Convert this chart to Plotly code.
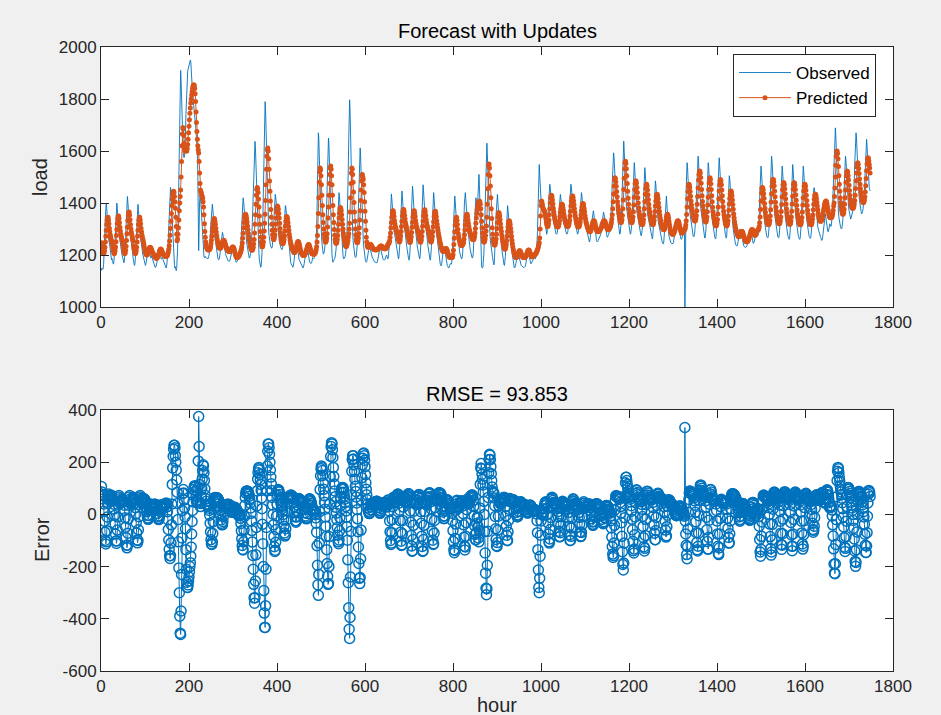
import numpy as np
import plotly.graph_objects as go

# Hourly load, one row per day (last day partial)
OBSERVED = [
    1140,1150,1148,1145,1150,1165,1196,1242,1298,1349,1385,1400,1380,1344,1303,1273,1257,1252,1247,1237,1222,1206,1191,1181,
    1186,1179,1170,1165,1170,1184,1212,1254,1306,1353,1386,1400,1381,1348,1311,1283,1268,1264,1259,1250,1236,1221,1207,1198,
    1201,1185,1175,1170,1175,1190,1221,1267,1323,1374,1410,1425,1405,1369,1328,1298,1282,1277,1272,1262,1247,1231,1216,1206,
    1188,1174,1165,1160,1165,1179,1207,1249,1301,1348,1381,1395,1376,1343,1306,1278,1263,1259,1254,1245,1231,1216,1202,1193,
    1185,1175,1168,1162,1160,1165,1175,1190,1205,1218,1228,1232,1225,1212,1200,1192,1188,1190,1195,1192,1185,1178,1170,1165,
    1160,1156,1153,1152,1155,1162,1172,1186,1200,1212,1222,1226,1220,1208,1196,1188,1184,1186,1190,1188,1182,1176,1170,1166,
    1162,1158,1154,1150,1155,1168,1190,1225,1270,1320,1370,1412,1445,1460,1440,1400,1350,1300,1255,1220,1195,1175,1160,1150,
    1155,1145,1140,1148,1170,1220,1300,1410,1540,1670,1790,1880,1910,1870,1790,1710,1650,1610,1590,1578,1575,1585,1610,1660,
    1740,1810,1860,1890,1905,1915,1925,1935,1940,1945,1950,1945,1925,1890,1855,1825,1800,1780,1760,1745,1730,1715,1700,1680,
    1660,1630,1590,1520,1400,1217,1300,1400,1430,1420,1400,1370,1330,1290,1250,1215,1200,1195,1190,1192,1195,1190,1188,1190,
    1188,1186,1185,1188,1195,1205,1225,1260,1300,1340,1370,1388,1395,1380,1350,1315,1290,1275,1265,1255,1240,1225,1210,1198,
    1190,1185,1182,1182,1186,1195,1210,1230,1252,1270,1282,1287,1280,1265,1248,1232,1220,1212,1205,1198,1192,1186,1182,1180,
    1178,1176,1175,1176,1180,1188,1198,1208,1216,1221,1223,1220,1212,1202,1192,1185,1180,1176,1173,1172,1174,1178,1185,1195,
    1200,1198,1200,1210,1225,1250,1285,1325,1365,1398,1420,1410,1385,1350,1318,1292,1275,1262,1250,1237,1224,1210,1200,1192,
    1188,1190,1195,1205,1220,1245,1280,1325,1380,1440,1510,1580,1625,1637,1610,1550,1480,1420,1370,1320,1280,1240,1205,1180,
    1165,1157,1153,1158,1175,1210,1270,1350,1450,1560,1670,1755,1790,1760,1680,1580,1490,1420,1370,1330,1300,1275,1255,1245,
    1238,1232,1228,1226,1230,1242,1265,1300,1345,1390,1420,1433,1425,1400,1370,1340,1315,1295,1280,1268,1256,1246,1238,1232,
    1226,1222,1220,1222,1230,1245,1270,1305,1345,1375,1390,1385,1365,1335,1305,1280,1260,1242,1226,1212,1198,1185,1174,1166,
    1162,1158,1155,1153,1156,1165,1180,1200,1222,1240,1252,1255,1248,1232,1214,1200,1190,1184,1180,1176,1170,1165,1160,1156,
    1153,1151,1150,1152,1158,1168,1182,1198,1214,1228,1236,1236,1228,1214,1200,1188,1180,1174,1170,1168,1167,1168,1172,1180,
    1190,1188,1186,1186,1190,1198,1210,1228,1255,1300,1370,1470,1580,1670,1650,1590,1510,1440,1380,1330,1285,1250,1222,1206,
    1205,1204,1208,1218,1235,1260,1295,1340,1400,1470,1545,1610,1650,1630,1560,1470,1390,1320,1270,1230,1200,1182,1172,1175,
    1180,1182,1186,1192,1202,1218,1240,1270,1310,1355,1400,1430,1440,1425,1390,1350,1315,1285,1258,1235,1215,1198,1188,1185,
    1188,1190,1195,1205,1220,1245,1285,1345,1430,1530,1640,1740,1797,1760,1660,1540,1440,1370,1320,1285,1255,1230,1212,1200,
    1195,1192,1190,1195,1208,1230,1265,1320,1390,1470,1550,1600,1612,1580,1510,1430,1365,1320,1285,1258,1235,1215,1198,1185,
    1178,1174,1172,1175,1182,1192,1205,1218,1228,1232,1230,1222,1212,1202,1195,1190,1188,1186,1184,1180,1176,1173,1172,1172,
    1172,1170,1170,1172,1178,1188,1200,1212,1222,1228,1228,1222,1212,1202,1194,1188,1184,1182,1180,1180,1182,1185,1190,1196,
    1200,1192,1190,1185,1190,1205,1235,1280,1335,1385,1420,1435,1415,1380,1340,1310,1295,1290,1285,1275,1260,1245,1230,1220,
    1216,1201,1190,1185,1190,1206,1237,1284,1341,1393,1429,1446,1424,1388,1346,1315,1299,1294,1289,1279,1263,1247,1232,1221,
    1214,1197,1186,1180,1186,1203,1237,1288,1351,1408,1448,1465,1442,1402,1357,1323,1305,1300,1294,1283,1266,1248,1231,1220,
    1219,1202,1191,1185,1191,1208,1242,1293,1356,1413,1453,1470,1447,1407,1362,1328,1310,1305,1299,1288,1271,1253,1236,1225,
    1211,1196,1185,1180,1185,1201,1232,1279,1336,1388,1424,1440,1419,1383,1341,1310,1294,1289,1280,1265,1245,1225,1205,1190,
    1180,1172,1165,1160,1158,1162,1172,1188,1205,1220,1230,1232,1225,1210,1195,1182,1172,1165,1160,1156,1153,1150,1152,1158,
    1165,1167,1166,1165,1170,1186,1217,1264,1322,1375,1411,1427,1406,1370,1327,1296,1280,1275,1270,1260,1244,1228,1212,1201,
    1195,1190,1186,1185,1191,1208,1240,1290,1350,1400,1432,1440,1418,1380,1338,1306,1290,1285,1280,1270,1254,1238,1222,1210,
    1205,1198,1192,1188,1192,1205,1230,1268,1315,1362,1398,1420,1412,1395,1385,1400,1440,1490,1510,1470,1380,1280,1200,1160,
    1155,1151,1150,1155,1170,1200,1250,1320,1410,1500,1575,1620,1630,1590,1520,1445,1385,1340,1305,1278,1255,1237,1222,1210,
    1200,1190,1178,1165,1162,1175,1205,1250,1305,1358,1400,1425,1433,1405,1365,1330,1310,1300,1292,1280,1262,1242,1222,1205,
    1192,1180,1170,1162,1160,1170,1195,1235,1285,1335,1372,1390,1375,1345,1310,1282,1266,1258,1250,1238,1222,1205,1188,1175,
    1165,1158,1153,1150,1152,1158,1168,1182,1195,1205,1210,1208,1200,1190,1180,1172,1166,1162,1160,1158,1156,1154,1152,1152,
    1152,1152,1153,1156,1162,1172,1184,1196,1205,1210,1208,1200,1190,1180,1173,1168,1166,1168,1172,1178,1182,1184,1185,1186,
    1188,1186,1185,1188,1195,1210,1240,1290,1360,1445,1520,1548,1510,1460,1430,1415,1405,1400,1395,1388,1378,1365,1350,1335,
    1320,1305,1292,1284,1280,1288,1310,1345,1395,1440,1465,1472,1458,1430,1398,1372,1358,1350,1343,1334,1322,1310,1298,1290,
    1285,1282,1280,1281,1286,1298,1318,1348,1385,1418,1432,1433,1420,1398,1372,1352,1340,1334,1328,1320,1310,1300,1292,1286,
    1283,1281,1280,1282,1290,1305,1330,1368,1412,1450,1468,1472,1458,1432,1402,1376,1360,1352,1345,1336,1324,1312,1301,1292,
    1286,1282,1280,1282,1289,1302,1324,1356,1394,1425,1438,1440,1426,1402,1376,1355,1342,1336,1330,1322,1312,1302,1293,1286,
    1280,1272,1264,1257,1252,1250,1254,1264,1280,1300,1322,1342,1358,1368,1370,1360,1340,1315,1292,1275,1264,1256,1252,1250,
    1252,1256,1260,1262,1264,1266,1270,1280,1295,1315,1335,1352,1362,1365,1360,1345,1325,1305,1290,1280,1274,1270,1268,1270,
    1276,1280,1285,1292,1302,1318,1342,1378,1425,1478,1530,1570,1593,1575,1530,1480,1440,1412,1392,1375,1358,1340,1322,1305,
    1292,1285,1280,1284,1296,1320,1360,1420,1495,1570,1625,1638,1605,1545,1485,1440,1410,1390,1375,1360,1345,1330,1315,1302,
    1290,1283,1280,1283,1293,1312,1345,1392,1450,1505,1540,1555,1530,1485,1440,1405,1382,1368,1356,1345,1333,1320,1308,1298,
    1290,1282,1276,1274,1280,1296,1326,1370,1425,1478,1518,1536,1515,1475,1432,1398,1376,1362,1350,1340,1328,1316,1305,1296,
    1288,1278,1270,1264,1262,1270,1292,1328,1374,1420,1464,1485,1470,1436,1398,1368,1348,1335,1324,1314,1302,1290,1280,1270,
    1262,1255,1250,1246,1244,1243,1250,1268,1295,1335,1380,1420,1427,1400,1360,1325,1300,1285,1272,1262,1255,1250,1247,1245,
    1245,1244,1243,1244,1248,1256,1268,1282,1296,1308,1318,1325,1330,1330,1325,1315,1302,1290,1280,1272,1266,1262,1260,1262,
    1268,1275,1282,1290,1298,1305,967,1330,1390,1450,1510,1555,1540,1500,1455,1415,1388,1370,1355,1340,1325,1310,1296,1285,
    1278,1272,1270,1272,1280,1296,1325,1368,1422,1478,1530,1565,1580,1560,1515,1468,1430,1405,1385,1368,1352,1336,1320,1306,
    1294,1282,1272,1266,1265,1275,1300,1345,1405,1470,1525,1555,1540,1500,1455,1418,1395,1380,1366,1352,1337,1322,1308,1296,
    1286,1276,1268,1263,1262,1272,1300,1348,1412,1480,1535,1570,1574,1545,1500,1460,1432,1412,1395,1378,1360,1342,1325,1310,
    1298,1288,1278,1270,1265,1272,1295,1335,1385,1438,1482,1505,1492,1460,1422,1390,1368,1350,1333,1315,1298,1282,1268,1256,
    1248,1242,1238,1235,1234,1236,1242,1252,1265,1280,1292,1300,1298,1290,1278,1265,1255,1248,1242,1238,1235,1232,1230,1229,
    1229,1230,1232,1236,1242,1250,1260,1272,1284,1294,1300,1302,1296,1284,1270,1258,1250,1246,1245,1248,1254,1262,1272,1284,
    1290,1282,1276,1272,1274,1285,1310,1355,1420,1490,1535,1542,1522,1485,1440,1405,1380,1362,1346,1330,1314,1300,1288,1278,
    1272,1268,1266,1268,1276,1292,1322,1370,1435,1505,1560,1580,1562,1520,1470,1430,1400,1380,1362,1345,1328,1312,1298,1286,
    1278,1272,1268,1266,1270,1284,1312,1358,1418,1482,1528,1542,1525,1488,1445,1410,1386,1368,1352,1336,1320,1305,1292,1282,
    1275,1268,1262,1260,1264,1280,1312,1362,1425,1490,1535,1548,1528,1490,1446,1410,1385,1366,1350,1334,1318,1302,1290,1280,
    1272,1266,1262,1260,1265,1280,1310,1355,1415,1478,1525,1542,1524,1488,1445,1410,1386,1368,1352,1336,1320,1305,1292,1282,
    1275,1270,1266,1264,1267,1278,1300,1332,1372,1412,1442,1456,1459,1440,1410,1380,1358,1342,1330,1320,1310,1300,1292,1286,
    1282,1278,1272,1266,1260,1256,1258,1266,1280,1300,1322,1342,1355,1357,1348,1332,1315,1302,1294,1290,1290,1295,1305,1320,
    1318,1312,1310,1315,1330,1358,1400,1455,1520,1590,1650,1685,1689,1660,1600,1530,1470,1425,1390,1365,1345,1330,1318,1310,
    1305,1302,1300,1304,1315,1335,1368,1412,1465,1520,1562,1580,1565,1530,1488,1450,1422,1402,1386,1372,1360,1350,1342,1338,
    1345,1350,1357,1365,1380,1405,1440,1490,1550,1610,1655,1670,1650,1605,1552,1505,1470,1445,1425,1408,1392,1380,1370,1362,
    1358,1362,1368,1378,1392,1415,1450,1500,1560,1612,1640,1645,1620,1575,1530,1495,1470,1460,1452,1446,
]

PREDICTED = [
    1247,1236,1225,1216,1209,1205,1208,1216,1230,1250,1272,1295,1317,1334,1344,1345,1335,1320,1303,1289,1278,1269,1261,1254,
    1249,1237,1225,1217,1209,1205,1208,1217,1231,1251,1275,1298,1321,1338,1349,1350,1340,1324,1307,1292,1280,1272,1263,1256,
    1253,1240,1227,1218,1210,1205,1208,1218,1234,1256,1282,1307,1333,1352,1363,1365,1354,1336,1317,1301,1288,1279,1269,1261,
    1254,1236,1225,1216,1209,1205,1208,1216,1230,1250,1272,1295,1317,1334,1344,1345,1335,1320,1303,1289,1278,1269,1261,1254,
    1245,1235,1225,1217,1210,1205,1202,1200,1201,1204,1209,1215,1221,1226,1229,1230,1228,1224,1219,1214,1210,1207,1204,1201,
    1198,1195,1192,1190,1188,1187,1188,1190,1193,1197,1202,1208,1214,1219,1222,1223,1221,1217,1212,1208,1205,1202,1200,1198,
    1196,1195,1194,1194,1195,1197,1200,1205,1212,1222,1236,1254,1276,1302,1330,1360,1390,1415,1433,1443,1445,1440,1425,1405,
    1380,1345,1310,1280,1255,1262,1280,1305,1335,1370,1400,1425,1450,1500,1560,1620,1665,1690,1685,1660,1630,1610,1600,1605,
    1605,1600,1600,1610,1625,1645,1670,1695,1720,1745,1765,1785,1800,1815,1828,1840,1848,1853,1855,1852,1840,1820,1790,1750,
    1710,1675,1645,1620,1605,1592,1560,1515,1475,1450,1442,1438,1430,1425,1418,1405,1385,1355,1320,1290,1268,1250,1238,1230,
    1225,1222,1220,1219,1219,1220,1222,1226,1233,1243,1257,1273,1290,1307,1322,1334,1340,1338,1330,1318,1303,1288,1274,1262,
    1252,1244,1237,1232,1228,1226,1226,1228,1231,1236,1242,1248,1253,1256,1257,1255,1251,1245,1239,1233,1228,1224,1221,1218,
    1216,1214,1213,1213,1214,1216,1219,1222,1226,1229,1231,1231,1229,1225,1219,1212,1205,1199,1194,1191,1190,1190,1191,1193,
    1195,1198,1202,1206,1210,1215,1222,1232,1246,1264,1284,1305,1325,1342,1353,1357,1356,1350,1340,1327,1312,1297,1283,1270,
    1258,1247,1238,1230,1224,1220,1218,1219,1223,1230,1242,1260,1285,1318,1355,1395,1430,1452,1460,1455,1440,1415,1385,1350,
    1318,1290,1268,1250,1238,1232,1232,1238,1250,1268,1292,1322,1357,1410,1470,1530,1580,1605,1612,1600,1570,1530,1485,1445,
    1408,1375,1345,1318,1295,1278,1266,1260,1260,1266,1278,1296,1318,1342,1364,1380,1388,1385,1375,1360,1342,1322,1302,1285,
    1270,1258,1250,1245,1243,1245,1250,1260,1274,1292,1312,1330,1343,1348,1346,1338,1325,1310,1295,1280,1267,1256,1247,1240,
    1234,1228,1223,1219,1215,1212,1210,1210,1212,1216,1222,1230,1238,1245,1250,1252,1250,1245,1238,1230,1222,1215,1210,1206,
    1203,1201,1199,1198,1198,1199,1201,1204,1208,1213,1219,1225,1231,1236,1239,1240,1238,1234,1228,1222,1216,1211,1207,1204,
    1205,1204,1203,1203,1204,1206,1209,1214,1221,1232,1250,1275,1310,1360,1420,1480,1520,1535,1528,1505,1470,1430,1390,1355,
    1325,1300,1280,1265,1255,1250,1250,1255,1265,1282,1308,1342,1385,1430,1475,1510,1535,1542,1530,1505,1470,1430,1390,1355,
    1325,1298,1276,1260,1250,1245,1245,1250,1260,1275,1295,1318,1342,1362,1377,1383,1380,1370,1355,1337,1318,1300,1284,1270,
    1258,1248,1240,1235,1233,1234,1238,1246,1256,1268,1282,1300,1322,1365,1420,1475,1515,1535,1530,1510,1480,1442,1402,1365,
    1330,1300,1278,1262,1252,1248,1248,1254,1265,1282,1305,1335,1370,1410,1450,1485,1505,1510,1500,1490,1470,1440,1405,1368,
    1330,1295,1268,1250,1238,1232,1230,1230,1232,1235,1238,1240,1240,1238,1235,1232,1229,1226,1224,1222,1221,1220,1220,1220,
    1220,1220,1220,1221,1222,1224,1226,1228,1230,1232,1234,1235,1235,1234,1232,1230,1228,1226,1225,1224,1224,1224,1225,1226,
    1228,1232,1236,1240,1242,1245,1248,1255,1268,1285,1305,1325,1345,1360,1369,1370,1361,1348,1333,1320,1310,1303,1295,1289,
    1288,1278,1268,1260,1254,1250,1253,1260,1273,1290,1310,1330,1350,1365,1374,1375,1366,1353,1338,1325,1315,1308,1300,1294,
    1285,1275,1265,1258,1252,1248,1250,1258,1270,1287,1307,1326,1346,1360,1369,1370,1361,1348,1333,1321,1311,1304,1297,1291,
    1287,1277,1267,1259,1253,1249,1252,1259,1272,1290,1311,1331,1351,1365,1373,1374,1365,1352,1337,1324,1314,1307,1299,1293,
    1289,1278,1268,1260,1254,1250,1253,1260,1272,1289,1309,1328,1347,1360,1367,1368,1360,1347,1332,1318,1305,1294,1283,1273,
    1263,1254,1246,1239,1232,1226,1221,1217,1214,1213,1214,1216,1219,1222,1224,1225,1224,1221,1216,1210,1204,1198,1194,1191,
    1192,1191,1190,1190,1190,1190,1193,1202,1218,1240,1264,1289,1314,1333,1343,1345,1334,1317,1299,1283,1271,1261,1252,1244,
    1240,1238,1237,1237,1238,1240,1243,1250,1262,1278,1296,1315,1334,1348,1356,1357,1349,1336,1322,1310,1300,1292,1285,1279,
    1275,1270,1266,1262,1260,1259,1260,1264,1272,1285,1302,1322,1342,1360,1374,1385,1393,1400,1405,1408,1405,1395,1378,1355,
    1330,1305,1285,1268,1256,1250,1250,1254,1262,1275,1292,1312,1345,1395,1455,1510,1545,1550,1535,1505,1465,1420,1378,1340,
    1305,1280,1262,1250,1242,1238,1238,1242,1250,1262,1280,1302,1325,1345,1358,1363,1360,1350,1336,1320,1305,1290,1276,1263,
    1252,1242,1234,1228,1224,1222,1224,1230,1240,1255,1272,1290,1308,1322,1330,1332,1327,1317,1303,1288,1272,1257,1243,1231,
    1221,1212,1205,1199,1195,1192,1190,1190,1192,1196,1201,1206,1211,1214,1216,1216,1214,1210,1205,1200,1196,1193,1191,1190,
    1190,1190,1191,1192,1194,1197,1201,1206,1211,1215,1218,1219,1218,1214,1209,1203,1198,1195,1193,1193,1194,1196,1198,1200,
    1201,1202,1203,1205,1208,1212,1216,1220,1225,1232,1240,1248,1265,1300,1350,1390,1408,1405,1395,1385,1378,1375,1372,1368,
    1362,1352,1340,1328,1318,1312,1310,1312,1320,1335,1355,1378,1400,1418,1428,1430,1424,1412,1396,1380,1366,1354,1343,1334,
    1326,1320,1315,1311,1309,1308,1309,1313,1320,1332,1347,1363,1378,1389,1395,1395,1390,1381,1370,1358,1347,1338,1330,1324,
    1319,1315,1312,1310,1310,1312,1316,1323,1334,1350,1368,1388,1406,1419,1426,1427,1420,1408,1393,1378,1363,1350,1339,1330,
    1322,1316,1312,1309,1308,1309,1312,1318,1327,1340,1355,1371,1385,1394,1398,1397,1390,1379,1366,1352,1340,1330,1322,1316,
    1310,1305,1300,1296,1292,1290,1289,1290,1293,1298,1305,1313,1320,1326,1330,1332,1331,1327,1320,1312,1304,1297,1292,1290,
    1289,1289,1290,1292,1294,1296,1299,1302,1306,1311,1316,1321,1326,1330,1332,1332,1330,1326,1320,1314,1308,1303,1299,1297,
    1297,1298,1300,1303,1307,1312,1318,1326,1338,1355,1378,1405,1435,1465,1488,1497,1494,1482,1464,1444,1424,1405,1388,1373,
    1360,1348,1338,1330,1326,1325,1328,1336,1352,1378,1412,1452,1495,1532,1555,1561,1552,1532,1505,1475,1445,1418,1395,1376,
    1360,1348,1338,1331,1326,1324,1326,1333,1346,1366,1392,1422,1452,1475,1485,1485,1476,1460,1440,1420,1400,1382,1367,1355,
    1344,1335,1328,1322,1318,1316,1318,1324,1336,1354,1378,1406,1434,1456,1469,1472,1465,1450,1432,1413,1395,1379,1366,1355,
    1345,1336,1328,1322,1318,1316,1318,1323,1333,1348,1367,1388,1408,1424,1432,1434,1428,1416,1400,1384,1368,1354,1342,1332,
    1323,1316,1310,1305,1301,1298,1297,1298,1302,1310,1320,1333,1345,1353,1357,1356,1350,1340,1328,1316,1305,1296,1290,1286,
    1283,1281,1280,1280,1282,1285,1289,1294,1300,1307,1314,1320,1326,1330,1332,1331,1327,1320,1312,1304,1297,1291,1287,1285,
    1285,1287,1290,1293,1296,1298,1300,1305,1315,1332,1356,1385,1416,1444,1463,1472,1470,1460,1444,1426,1408,1392,1378,1366,
    1356,1347,1340,1335,1332,1331,1333,1340,1352,1370,1395,1425,1458,1488,1510,1521,1523,1515,1498,1476,1452,1428,1406,1388,
    1372,1358,1346,1336,1330,1327,1328,1334,1346,1366,1392,1422,1452,1478,1494,1497,1490,1474,1452,1428,1405,1384,1366,1352,
    1340,1330,1322,1316,1313,1312,1315,1323,1337,1358,1385,1416,1446,1470,1485,1490,1485,1470,1450,1428,1406,1386,1368,1354,
    1342,1332,1324,1318,1314,1312,1314,1320,1332,1350,1372,1396,1418,1435,1444,1446,1440,1428,1412,1394,1376,1358,1342,1328,
    1316,1306,1298,1291,1285,1280,1276,1273,1271,1270,1271,1274,1278,1283,1287,1290,1290,1288,1284,1278,1272,1266,1261,1257,
    1254,1252,1251,1251,1252,1254,1257,1261,1266,1272,1278,1284,1290,1294,1297,1298,1296,1292,1287,1282,1278,1276,1276,1280,
    1286,1290,1292,1294,1296,1298,1302,1310,1324,1346,1375,1408,1438,1456,1460,1458,1450,1436,1418,1398,1380,1364,1350,1340,
    1332,1325,1320,1317,1316,1318,1323,1333,1350,1374,1404,1436,1464,1482,1490,1490,1482,1466,1446,1424,1403,1384,1368,1355,
    1344,1335,1328,1323,1320,1320,1324,1332,1346,1367,1394,1424,1451,1470,1478,1478,1470,1455,1436,1416,1396,1378,1362,1350,
    1340,1332,1325,1320,1318,1318,1322,1331,1346,1368,1396,1426,1453,1471,1478,1477,1468,1452,1432,1411,1391,1373,1358,1346,
    1336,1328,1322,1318,1316,1316,1320,1329,1344,1365,1392,1420,1446,1464,1471,1472,1464,1449,1430,1410,1390,1372,1357,1346,
    1336,1328,1322,1318,1316,1316,1319,1326,1338,1354,1374,1395,1414,1428,1434,1434,1428,1417,1403,1388,1374,1361,1350,1342,
    1336,1332,1330,1330,1332,1336,1342,1350,1360,1370,1380,1390,1398,1404,1407,1408,1404,1396,1386,1375,1365,1356,1350,1346,
    1344,1343,1343,1344,1347,1352,1360,1372,1388,1400,1425,1458,1500,1545,1580,1598,1600,1590,1570,1540,1505,1472,1445,1420,
    1402,1388,1376,1366,1360,1357,1358,1364,1376,1395,1420,1450,1480,1504,1518,1523,1518,1505,1488,1468,1448,1430,1414,1402,
    1392,1386,1382,1380,1380,1382,1387,1396,1410,1430,1456,1486,1515,1538,1552,1555,1548,1533,1513,1492,1472,1455,1440,1428,
    1418,1410,1405,1402,1402,1405,1412,1424,1442,1466,1494,1524,1550,1568,1574,1572,1562,1548,1535,1515,
]

HOUR_TICKS = [0, 200, 400, 600, 800, 1000, 1200, 1400, 1600, 1800]
LOAD_TICKS = [1000, 1200, 1400, 1600, 1800, 2000]
ERROR_TICKS = [-600, -400, -200, 0, 200, 400]
ERROR_TICK_TEXT = ["-600", "-400", "-200", "0", "200", "400"]

TITLE_TOP = "Forecast with Updates"
TITLE_BOTTOM = "RMSE = 93.853"

observed = np.asarray(OBSERVED, dtype=float)
predicted = np.asarray(PREDICTED, dtype=float)
n = min(len(observed), len(predicted))
observed, predicted = observed[:n], predicted[:n]
hours = np.arange(1, n + 1)
error = predicted - observed

BLUE = "#0072BD"
ORANGE = "#D95319"
AXIS = "#262626"
FONT = "Liberation Sans, Arial, Helvetica, sans-serif"

# page geometry (pixels)
W, H = 941, 715
ML, MR, MT, MB = 101, 48, 47, 44
PW, PH = W - ML - MR, H - MT - MB


def fx(px):
    return (px - ML) / PW


def fy(py):
    return (H - MB - py) / PH


fig = go.Figure()
fig.add_trace(go.Scatter(
    x=hours, y=observed, mode="lines", name="Observed",
    line=dict(color=BLUE, width=0.9), xaxis="x", yaxis="y"))
fig.add_trace(go.Scatter(
    x=hours, y=predicted, mode="lines+markers", name="Predicted",
    line=dict(color=ORANGE, width=1),
    marker=dict(color=ORANGE, size=5, symbol="circle"),
    xaxis="x", yaxis="y"))
fig.add_trace(go.Scatter(
    x=hours, y=error, mode="lines+markers", showlegend=False,
    line=dict(color=BLUE, width=1),
    marker=dict(symbol="circle-open", size=10, color=BLUE,
                line=dict(color=BLUE, width=1.5)),
    xaxis="x2", yaxis="y2"))

axis_style = dict(
    showline=True, linecolor=AXIS, linewidth=1, mirror="allticks",
    ticks="inside", ticklen=8, tickwidth=1, tickcolor=AXIS,
    showgrid=False, zeroline=False,
    tickfont=dict(family=FONT, size=17, color=AXIS),
)

top_domain = [fy(307), 1.0]
bottom_domain = [0.0, fy(410)]

fig.update_layout(
    width=W, height=H,
    margin=dict(l=ML, r=MR, t=MT, b=MB),
    paper_bgcolor="#F0F0F0", plot_bgcolor="white",
    font=dict(family=FONT, color=AXIS),
    showlegend=True,
    xaxis=dict(axis_style, domain=[0, 1], anchor="y", range=[0, 1800],
               tickvals=HOUR_TICKS),
    yaxis=dict(axis_style, domain=top_domain, anchor="x", range=[1000, 2000],
               tickvals=LOAD_TICKS),
    xaxis2=dict(axis_style, domain=[0, 1], anchor="y2", range=[0, 1800],
                tickvals=HOUR_TICKS),
    yaxis2=dict(axis_style, domain=bottom_domain, anchor="x2", range=[-600, 400],
                tickvals=ERROR_TICKS, ticktext=ERROR_TICK_TEXT),
    legend=dict(
        x=fx(733), y=fy(54), xanchor="left", yanchor="top",
        bgcolor="white", bordercolor=AXIS, borderwidth=1,
        font=dict(family=FONT, size=17, color="black"),
        itemwidth=52, tracegroupgap=0,
    ),
    annotations=[
        dict(text=TITLE_TOP, x=0.5, y=fy(31), xref="paper", yref="paper",
             xanchor="center", yanchor="middle", showarrow=False,
             font=dict(family=FONT, size=20, color="black")),
        dict(text=TITLE_BOTTOM, x=0.5, y=fy(394), xref="paper", yref="paper",
             xanchor="center", yanchor="middle", showarrow=False,
             font=dict(family=FONT, size=20, color="black")),
        dict(text="load", x=fx(40), y=fy(177), xref="paper", yref="paper",
             xanchor="center", yanchor="middle", textangle=-90, showarrow=False,
             font=dict(family=FONT, size=20, color=AXIS)),
        dict(text="Error", x=fx(42), y=fy(540), xref="paper", yref="paper",
             xanchor="center", yanchor="middle", textangle=-90, showarrow=False,
             font=dict(family=FONT, size=20, color=AXIS)),
        dict(text="hour", x=0.5, y=fy(705), xref="paper", yref="paper",
             xanchor="center", yanchor="middle", showarrow=False,
             font=dict(family=FONT, size=20, color=AXIS)),
    ],
)

fig.write_html("out.html")
